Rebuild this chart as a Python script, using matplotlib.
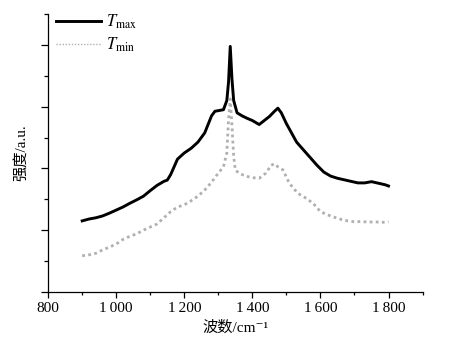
import numpy as np
import matplotlib
matplotlib.use("Agg")
import matplotlib.pyplot as plt
from matplotlib.ticker import MultipleLocator, FixedLocator

plt.rcParams['font.family'] = ['Liberation Serif', 'Noto Sans CJK SC', 'DejaVu Serif']
plt.rcParams['mathtext.fontset'] = 'stix'

# Raman spectra at the two temperatures
wn_max = [900, 920, 940, 960, 980, 1000, 1020, 1040, 1060, 1080, 1100, 1120, 1140, 1150,
          1160, 1170, 1180, 1200, 1220, 1240, 1260, 1280, 1290, 1300, 1315, 1325, 1330,
          1335, 1340, 1345, 1355, 1370, 1385, 1400, 1420, 1435, 1450, 1465, 1475, 1485,
          1500, 1515, 1530, 1550, 1570, 1590, 1610, 1630, 1650, 1670, 1690, 1710, 1730,
          1750, 1770, 1790, 1800]
i_max = [2.30, 2.36, 2.40, 2.46, 2.55, 2.65, 2.75, 2.87, 2.98, 3.10, 3.28, 3.45, 3.58, 3.62,
         3.80, 4.05, 4.30, 4.50, 4.65, 4.85, 5.15, 5.70, 5.85, 5.87, 5.90, 6.20, 6.80,
         7.95, 6.90, 6.20, 5.80, 5.70, 5.62, 5.55, 5.42, 5.55, 5.68, 5.85, 5.95, 5.80,
         5.45, 5.15, 4.85, 4.60, 4.35, 4.10, 3.88, 3.75, 3.68, 3.63, 3.58, 3.53, 3.53,
         3.57, 3.52, 3.47, 3.43]

wn_min = [900, 920, 940, 960, 980, 1000, 1020, 1040, 1060, 1080, 1100, 1120, 1140, 1160,
          1180, 1200, 1220, 1240, 1260, 1280, 1300, 1315, 1325, 1330, 1335, 1340, 1345,
          1350, 1360, 1380, 1400, 1420, 1440, 1455, 1465, 1475, 1490, 1505, 1520, 1540,
          1560, 1580, 1600, 1620, 1640, 1660, 1680, 1700, 1720, 1740, 1760, 1780, 1800]
i_min = [1.17, 1.20, 1.25, 1.36, 1.45, 1.55, 1.70, 1.80, 1.88, 2.00, 2.10, 2.20, 2.40, 2.60,
         2.75, 2.82, 2.95, 3.10, 3.30, 3.55, 3.85, 4.05, 4.50, 5.60, 6.25, 5.40, 4.40,
         3.95, 3.85, 3.75, 3.70, 3.68, 3.85, 4.10, 4.15, 4.05, 3.95, 3.60, 3.35, 3.15,
         3.02, 2.85, 2.60, 2.50, 2.42, 2.35, 2.30, 2.27, 2.28, 2.26, 2.27, 2.25, 2.27]

xticks = [800, 1000, 1200, 1400, 1600, 1800]
xticklabels = ['800', '1\u2009000', '1\u2009200', '1\u2009400', '1\u2009600', '1\u2009800']

fig = plt.figure(figsize=(4.5, 3.5), dpi=100)
ax = fig.add_axes([0.107, 0.166, 0.832, 0.794])

ax.plot(wn_max, i_max, color='black', lw=2.1, label=r'$T_{\rm max}$')
ax.plot(wn_min, i_min, color='#b0b0b0', lw=2.0, linestyle=(0, (1, 1.2)),
        label=r'$T_{\rm min}$')

ax.set_xlim(800, 1900)
ax.set_ylim(0, 9)
ax.xaxis.set_major_locator(FixedLocator(xticks))
ax.set_xticklabels(xticklabels, fontsize=11)
ax.xaxis.set_minor_locator(MultipleLocator(100))
ax.yaxis.set_major_locator(MultipleLocator(2))
ax.yaxis.set_minor_locator(FixedLocator([1, 3, 5, 7, 9]))
ax.set_yticklabels([])
ax.tick_params(which='major', direction='out', length=4, width=0.9)
ax.tick_params(which='minor', direction='out', length=2.5, width=0.9)
ax.tick_params(axis='y', which='major', length=5)
ax.tick_params(axis='y', which='minor', length=3)

for s in ['top', 'right']:
    ax.spines[s].set_visible(False)
for s in ['left', 'bottom']:
    ax.spines[s].set_linewidth(0.9)

ax.set_xlabel('波数/cm\u207b\u00b9', fontsize=11, labelpad=4)
ax.set_ylabel('强度/a.u.', fontsize=11, labelpad=6)

leg = ax.legend(loc='upper left', frameon=False, fontsize=12, handlelength=2.7,
                handletextpad=0.3, labelspacing=0.3, borderaxespad=0.1,
                bbox_to_anchor=(0.0, 1.035))
leg.get_lines()[1].set_linewidth(1.0)

fig.savefig('out.png', dpi=100)
